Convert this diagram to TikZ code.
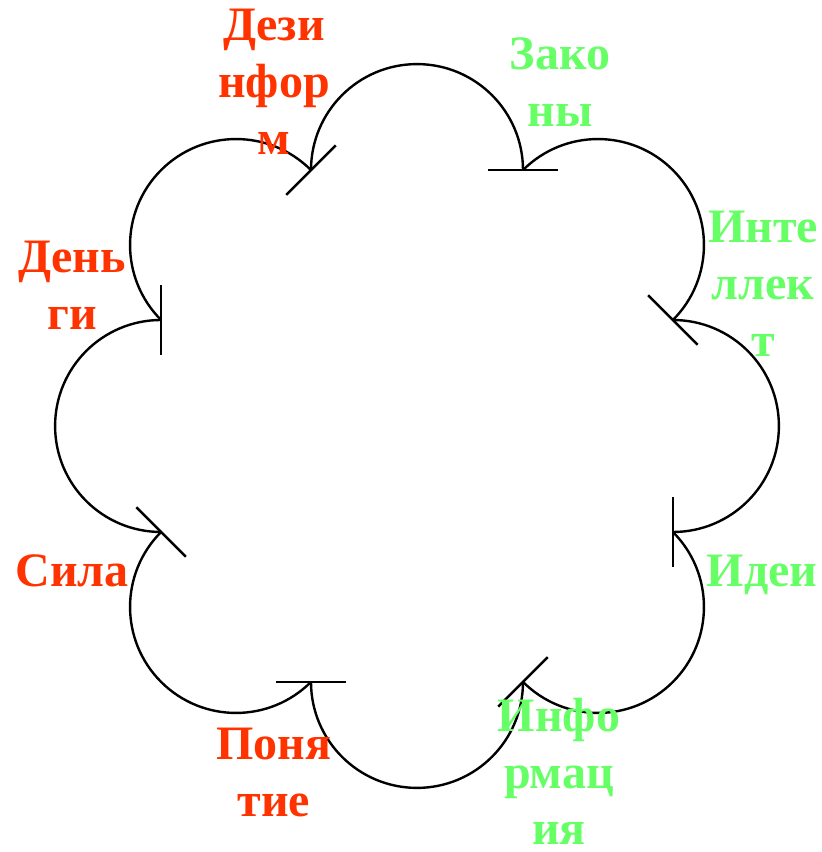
\documentclass[tikz,border=0pt]{standalone}
\usepackage{fontspec}
\setmainfont{Liberation Serif}
\newfontfamily\lblfont{Liberation Serif Bold}
\usetikzlibrary{calc}
\definecolor{lblred}{RGB}{255,51,0}
\definecolor{lblgreen}{RGB}{102,255,102}
\tikzset{
  lobe/.style={line width=2.4pt, black},
  tickmark/.style={line width=2.4pt, black},
  lbl/.style={font=\fontsize{48}{57}\lblfont, align=center, anchor=base, inner sep=0pt}
}
\begin{document}
\begin{tikzpicture}[x=1pt,y=1pt]
\useasboundingbox (0,0) rectangle (822,852);
\coordinate (C) at (417,426);
% lobes: semicircles centred at distance 256 from C, radius 106
\foreach \t in {0,45,...,315}{
  \coordinate (M\t) at ($(C)+(\t:255.9)$);
  \coordinate (S\t) at ($(C)+(\t+22.5:277)$);
  \coordinate (E\t) at ($(C)+(\t-22.5:277)$);
  \draw[lobe] (S\t) arc[start angle=\t+90, end angle=\t-90, radius=106];
  \draw[tickmark] ($(E\t)+(\t+90:35)$) -- ($(E\t)+(\t-90:35)$);
}
\node[lbl, text=lblred]   (dez)  at (274,697) {Дези\\нфор\\м};
\node[lbl, text=lblgreen] (zak)  at (560,725) {Зако\\ны};
\node[lbl, text=lblgreen] (intl) at (763,495) {Инте\\ллек\\т};
\node[lbl, text=lblgreen] (idei) at (762,265) {Идеи};
\node[lbl, text=lblgreen] (info) at (559,7)   {Инфо\\рмац\\ия};
\node[lbl, text=lblred]   (pon)  at (274,35)  {Поня\\тие};
\node[lbl, text=lblred]   (sila) at (72,265)  {Сила};
\node[lbl, text=lblred]   (den)  at (72,522)  {День\\ги};
\end{tikzpicture}
\end{document}
